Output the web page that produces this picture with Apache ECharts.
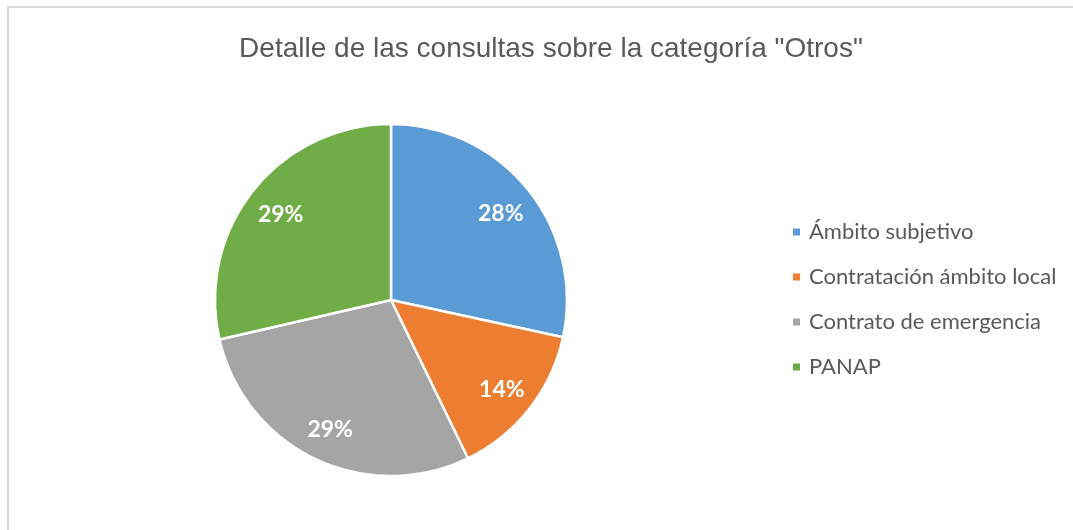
<!DOCTYPE html>
<html><head><meta charset="utf-8">
<script src="https://cdn.jsdelivr.net/npm/echarts@6/dist/echarts.min.js"></script>
<style>html,body{margin:0;padding:0;background:#fff}#c{width:1073px;height:530px}</style>
</head><body><div id="c"></div>
<script>
const titleText = 'Detalle de las consultas sobre la categoría "Otros"';
const categories = ['Ámbito subjetivo', 'Contratación ámbito local', 'Contrato de emergencia', 'PANAP'];
const values = [28.4, 14.4, 28.6, 28.6];
const colors = ['#5B9BD5', '#ED7D31', '#A5A5A5', '#70AD47'];

const chart = echarts.init(document.getElementById('c'));
const data = categories.map((n, i) => ({ name: n, value: values[i], itemStyle: { color: colors[i] } }));
chart.setOption({
  animation: false,
  title: {
    text: titleText, left: 546, top: 30, textAlign: 'center',
    textStyle: { fontFamily: 'Liberation Sans', fontSize: 28, fontWeight: 'normal', color: '#595959' }
  },
  legend: {
    orient: 'vertical', left: 786, top: 216, itemGap: 23, itemWidth: 9, itemHeight: 9,
    icon: 'rect', data: categories,
    textStyle: { fontFamily: 'Lato', fontSize: 22, lineHeight: 22, color: '#595959', padding: [0, 0, 0, 3] }
  },
  graphic: [{ type: 'rect', shape: { x: 8, y: 7, width: 1300, height: 700 }, style: { fill: 'none', stroke: '#D9D9D9', lineWidth: 2 }, silent: true }],
  series: [{
    type: 'pie', center: [391, 300], radius: 176, startAngle: 90, clockwise: true,
    data: data, label: { show: false }, labelLine: { show: false },
    itemStyle: { borderColor: '#fff', borderWidth: 2.5 }
  }, {
    type: 'pie', center: [391, 302], radius: [100, 176], startAngle: 90, clockwise: true,
    data: categories.map((n, i) => ({ name: n, value: values[i] })),
    itemStyle: { color: 'rgba(0,0,0,0)' }, silent: true, legendHoverLink: false,
    label: { show: true, position: 'inside', formatter: p => Math.round(p.percent) + '%',
      fontFamily: 'Lato', fontWeight: 'bold', fontSize: 23, color: '#fff' },
    labelLine: { show: false }
  }]
});
</script></body></html>
